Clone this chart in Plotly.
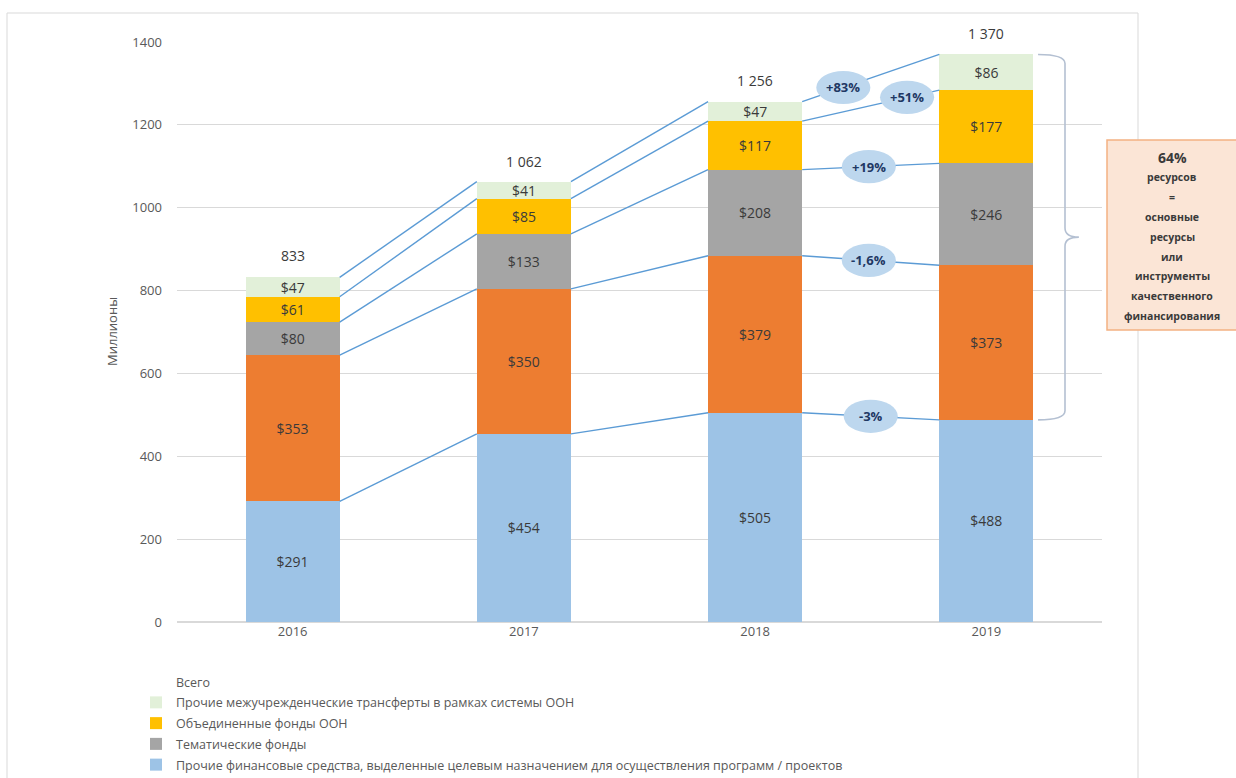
import plotly.graph_objects as go
import numpy as np

# ---------------- data ----------------
YEARS = ["2016", "2017", "2018", "2019"]
SERIES_NAMES = [
    "Прочие финансовые средства, выделенные целевым назначением для осуществления программ / проектов",
    "Основные ресурсы",
    "Тематические фонды",
    "Объединенные фонды ООН",
    "Прочие межучрежденческие трансферты в рамках системы ООН",
]
OTHER_EARMARKED = [291, 454, 505, 488]
CORE = [353, 350, 379, 373]
THEMATIC = [80, 133, 208, 246]
POOLED = [61, 85, 117, 177]
INTERAGENCY = [47, 41, 47, 86]
TOTALS = [833, 1062, 1256, 1370]
TOTAL_NAME = "Всего"
CHANGE_LABELS = ["-3%", "-1,6%", "+19%", "+51%", "+83%"]
Y_TICKS = [0, 200, 400, 600, 800, 1000, 1200, 1400]
BOX_LINES = ["64%", "ресурсов", "=", "основные", "ресурсы", "или",
             "инструменты", "качественного", "финансирования"]

# ---------------- style ----------------
COLORS = ["#9dc3e6", "#ed7d31", "#a5a5a5", "#ffc000", "#e2f0d9"]
LEGEND_RANK = [5, 6, 4, 3, 2]
SHOW_IN_LEGEND = [True, False, True, True, True]
LINE_COLOR = "#5b9bd5"
FONT = "Open Sans"
TXT = "#3a3a3a"
GREY = "#595959"
BAR_W = 0.407
BUBBLE_T = [0.50, 0.486, 0.486, 0.765, 0.30]   # position along 2018-2019 connector
BUBBLE_W = 0.234
BUBBLE_H = 80

W, H = 1236, 778
L, R, T, B = 177, 134, 42, 156
PW, PH = W - L - R, H - T - B

def px_x(p):
    return (p - L) / PW

def px_y(p):
    return (H - B - p) / PH

series = [OTHER_EARMARKED, CORE, THEMATIC, POOLED, INTERAGENCY]
xs = np.arange(len(YEARS))
cum = np.cumsum(np.array(series), axis=0)  # levels after each series

fig = go.Figure()

# invisible "total" trace (legend entry without symbol)
fig.add_trace(go.Scatter(
    x=xs, y=TOTALS, mode="lines", name=TOTAL_NAME,
    line=dict(color="rgba(0,0,0,0)", width=0),
    legendrank=1, legendgroup="g0", hoverinfo="skip"))

for k, (name, vals) in enumerate(zip(SERIES_NAMES, series)):
    fig.add_trace(go.Bar(
        x=xs, y=vals, name=name, width=BAR_W,
        marker=dict(color=COLORS[k], line=dict(width=0)),
        text=[f"${v}" for v in vals], textposition="inside",
        insidetextanchor="middle", textangle=0,
        textfont=dict(family=FONT, size=14, color=TXT),
        showlegend=SHOW_IN_LEGEND[k], legendrank=LEGEND_RANK[k],
        legendgroup=f"g{k+1}"))

# connector lines between bars
for k in range(len(series)):
    lx, ly = [], []
    for i in range(len(YEARS) - 1):
        lx += [xs[i] + BAR_W / 2, xs[i + 1] - BAR_W / 2, None]
        ly += [cum[k][i], cum[k][i + 1], None]
    fig.add_trace(go.Scatter(x=lx, y=ly, mode="lines", showlegend=False,
                             line=dict(color=LINE_COLOR, width=1.4),
                             hoverinfo="skip"))

shapes = []
annotations = []

# total labels
for i, t in enumerate(TOTALS):
    lab = f"{t:,}".replace(",", " ")
    annotations.append(dict(x=xs[i], y=t, xref="x", yref="y", text=lab,
                            showarrow=False, yshift=21,
                            font=dict(family=FONT, size=14, color=TXT)))

# change bubbles on 2018 -> 2019 connectors
x_a, x_b = xs[2] + BAR_W / 2, xs[3] - BAR_W / 2
for k, lab in enumerate(CHANGE_LABELS):
    t = BUBBLE_T[k]
    cx = x_a + t * (x_b - x_a)
    cy = cum[k][2] + t * (cum[k][3] - cum[k][2])
    shapes.append(dict(type="circle", xref="x", yref="y",
                       x0=cx - BUBBLE_W / 2, x1=cx + BUBBLE_W / 2,
                       y0=cy - BUBBLE_H / 2, y1=cy + BUBBLE_H / 2,
                       fillcolor="#bdd7ee", line=dict(width=0), layer="above"))
    annotations.append(dict(x=cx, y=cy, xref="x", yref="y", text=f"<b>{lab}</b>",
                            showarrow=False,
                            font=dict(family=FONT, size=13, color="#1f3864")))

# curly bracket for 2019 (blue top to total)
top, bot = cum[-1][3], cum[0][3]
mid = (top + bot) / 2
x0b = xs[3] + BAR_W / 2 + 0.02
xv, xt = 3.34, 3.40
r = 22
path = (f"M {x0b},{top} Q {xv},{top} {xv},{top - r} L {xv},{mid + r} "
        f"Q {xv},{mid} {xt},{mid} Q {xv},{mid} {xv},{mid - r} "
        f"L {xv},{bot + r} Q {xv},{bot} {x0b},{bot}")
shapes.append(dict(type="path", xref="x", yref="y", path=path,
                   line=dict(color="#b4c0d2", width=1.6), layer="above"))

# chart border
shapes.append(dict(type="rect", xref="paper", yref="paper",
                   x0=px_x(7), x1=px_x(1138), y0=px_y(800), y1=px_y(13),
                   line=dict(color="#d9d9d9", width=1), layer="below"))

# side box
shapes.append(dict(type="rect", xref="paper", yref="paper",
                   x0=px_x(1107), x1=px_x(1260), y0=px_y(330), y1=px_y(140),
                   fillcolor="#fbe5d6", line=dict(color="#f4b183", width=1.5),
                   layer="above"))
for j, line in enumerate(BOX_LINES):
    size = 14 if j == 0 else 10.5
    annotations.append(dict(x=px_x(1172), y=px_y(157 + j * 19.9),
                            xref="paper", yref="paper", text=f"<b>{line}</b>",
                            showarrow=False, xanchor="center", yanchor="middle",
                            font=dict(family=FONT, size=size, color=TXT)))

# y-axis title
annotations.append(dict(x=px_x(101), y=px_y(332), xref="paper", yref="paper",
                        text="Миллионы", textangle=-90, showarrow=False,
                        font=dict(family=FONT, size=13, color=GREY)))

fig.update_layout(
    width=W, height=H,
    margin=dict(l=L, r=R, t=T, b=B, autoexpand=False),
    barmode="stack",
    plot_bgcolor="white", paper_bgcolor="white",
    font=dict(family=FONT, color=GREY),
    uniformtext=dict(minsize=14, mode="show"),
    shapes=shapes, annotations=annotations,
    legend=dict(x=px_x(136), y=px_y(667), xanchor="left", yanchor="top",
                orientation="v", traceorder="grouped", tracegroupgap=1.5,
                font=dict(family=FONT, size=12.5, color=GREY),
                bgcolor="rgba(0,0,0,0)"),
    xaxis=dict(tickmode="array", tickvals=list(xs), ticktext=YEARS,
               range=[-0.5, len(YEARS) - 0.5], showgrid=False,
               showline=False, zeroline=False, ticks="",
               tickfont=dict(family=FONT, size=13, color=GREY)),
    yaxis=dict(range=[0, 1400], tickvals=Y_TICKS, showgrid=True,
               gridcolor="#d9d9d9", gridwidth=1, zeroline=True,
               zerolinecolor="#d9d9d9", showline=False, ticks="",
               ticklabelstandoff=14,
               tickfont=dict(family=FONT, size=13, color=GREY)),
)

fig.write_html("out.html", config={"displayModeBar": False},
               post_script="document.body.style.margin='0';")
